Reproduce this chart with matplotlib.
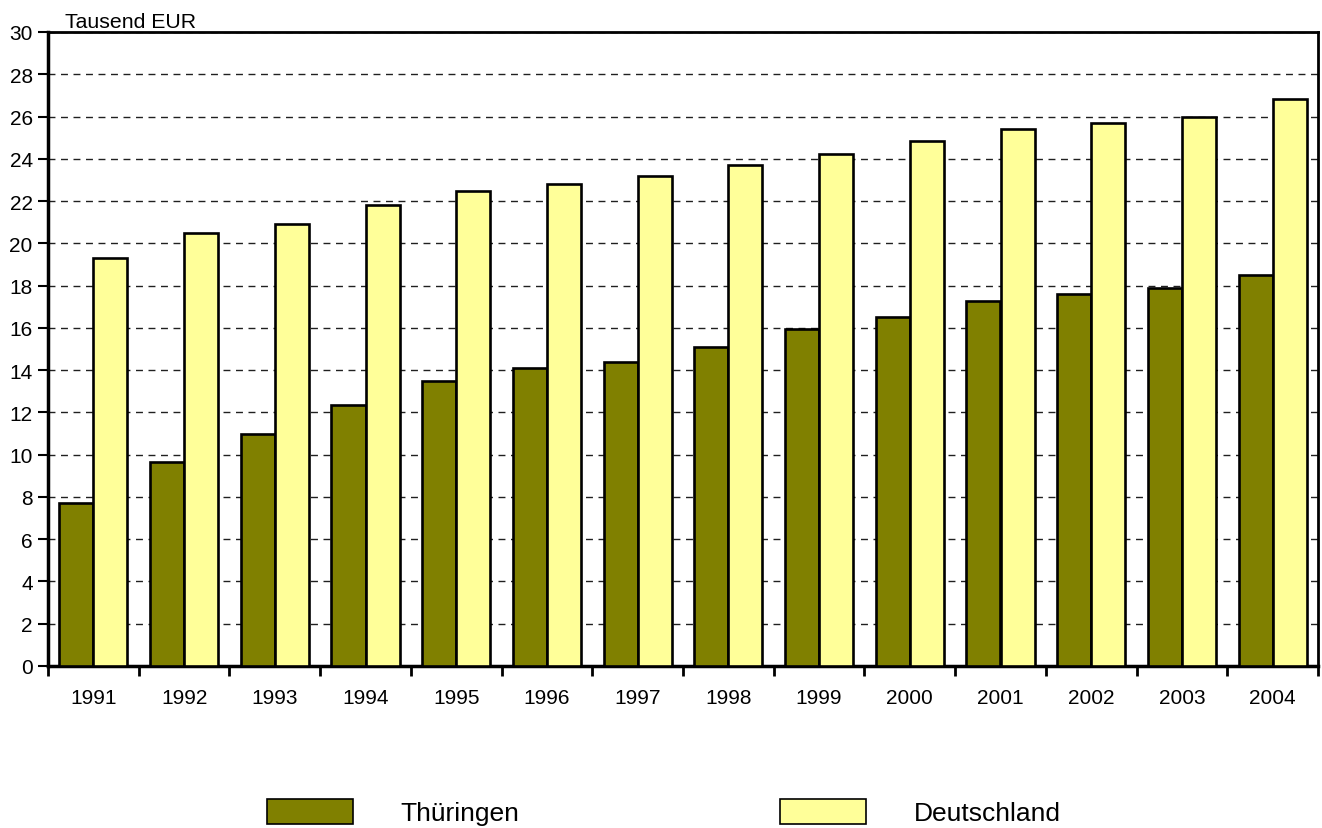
import numpy as np
import matplotlib
matplotlib.use('Agg')
import matplotlib.pyplot as plt
from matplotlib.patches import Patch

plt.rcParams['font.family'] = ['Liberation Sans', 'DejaVu Sans']

# values, tausend EUR per capita
years = ['1991', '1992', '1993', '1994', '1995', '1996', '1997',
         '1998', '1999', '2000', '2001', '2002', '2003', '2004']
thueringen = [7.7, 9.65, 11.0, 12.35, 13.5, 14.1, 14.4,
              15.1, 15.95, 16.5, 17.25, 17.6, 17.9, 18.5]
deutschland = [19.3, 20.5, 20.9, 21.8, 22.5, 22.8, 23.2,
               23.7, 24.25, 24.85, 25.4, 25.7, 26.0, 26.85]

col_th = '#808000'
col_de = '#FFFF99'

fig = plt.figure(figsize=(13.22, 8.29), dpi=100)
ax = fig.add_axes([48 / 1322, 1 - 667 / 829, 1270 / 1322, 634 / 829])

x = np.arange(len(years))
w = 0.375
ax.bar(x - w / 2, thueringen, w, color=col_th, edgecolor='black', linewidth=1.9, zorder=3)
ax.bar(x + w / 2, deutschland, w, color=col_de, edgecolor='black', linewidth=1.9, zorder=3)

ax.set_xlim(-0.5, len(years) - 0.5)
ax.set_ylim(0, 30)
ax.set_yticks(np.arange(0, 31, 2))
ax.yaxis.grid(True, linestyle=(0, (5, 4)), color='#202020', linewidth=1.0, zorder=0)

# year labels centred in each group, tick marks between groups
ax.set_xticks(np.arange(len(years) + 1) - 0.5)
ax.set_xticklabels([])
ax.set_xticks(x, minor=True)
ax.set_xticklabels(years, minor=True)
ax.tick_params(axis='x', which='minor', length=0, pad=16, labelsize=15)
ax.tick_params(axis='x', which='major', direction='out', length=7, width=2)
ax.tick_params(axis='y', direction='out', length=7, width=1.5, labelsize=15, pad=4)

for s in ['left', 'bottom']:
    ax.spines[s].set_linewidth(2.5)
for s in ['top', 'right']:
    ax.spines[s].set_linewidth(2)

ax.text(0.013, 1.002, 'Tausend EUR', transform=ax.transAxes, fontsize=15.3,
        ha='left', va='bottom')

handles = [Patch(facecolor=col_th, edgecolor='black', linewidth=1.2, label='Thüringen'),
           Patch(facecolor=col_de, edgecolor='black', linewidth=1.2, label='Deutschland')]
fig.legend(handles=handles, loc='lower left', bbox_to_anchor=(264 / 1322, 0.0),
           ncol=2, frameon=False, fontsize=19, handlelength=3.26, handleheight=1.1,
           handletextpad=1.8, columnspacing=9.9, borderpad=0.1, borderaxespad=0)

fig.savefig('out.png', dpi=100)
